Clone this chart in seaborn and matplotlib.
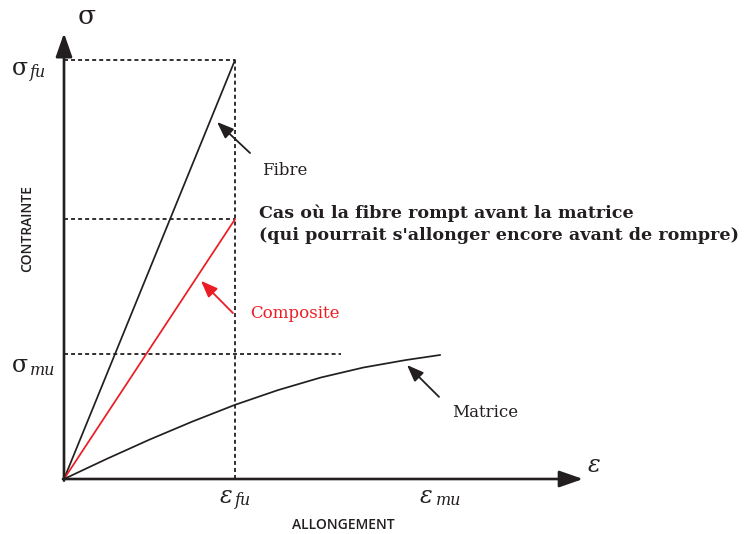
import matplotlib
matplotlib.use("Agg")
import matplotlib.pyplot as plt
import numpy as np
import pandas as pd
import seaborn as sns

# Stress–strain curves (strain normalised by fibre failure strain,
# stress normalised by fibre failure stress)
strain_fibre = [0.0, 1.0]
stress_fibre = [0.0, 1.0]
strain_composite = [0.0, 1.0]
stress_composite = [0.0, 0.62]
strain_matrix = [0.0, 0.25, 0.5, 0.75, 1.0, 1.25, 1.5, 1.75, 2.0, 2.2]
stress_matrix = [0.0, 0.048, 0.094, 0.137, 0.177, 0.212, 0.242, 0.266, 0.284, 0.296]

eps_fu = 1.0
eps_mu = 2.2
sig_fu = 1.0
sig_mu = 0.298

curve_names = ["Fibre", "Composite", "Matrice"]
curve_colors = {"Fibre": "#231f20", "Composite": "#ec1c24", "Matrice": "#231f20"}

sns.set_theme(style="white")
plt.rcParams["font.family"] = ["DejaVu Serif", "DejaVu Sans"]

df = pd.concat([
    pd.DataFrame({"strain": strain_fibre, "stress": stress_fibre, "curve": "Fibre"}),
    pd.DataFrame({"strain": strain_composite, "stress": stress_composite, "curve": "Composite"}),
    pd.DataFrame({"strain": strain_matrix, "stress": stress_matrix, "curve": "Matrice"}),
], ignore_index=True)

fig = plt.figure(figsize=(7.52, 5.34), dpi=100)
ax = fig.add_axes([0, 0, 1, 1])
ax.set_xlim(-64 / 171, 688 / 171)
ax.set_ylim(-55 / 419, 479 / 419)
ax.axis("off")

sns.lineplot(data=df, x="strain", y="stress", hue="curve", palette=curve_colors,
             hue_order=curve_names, sort=False, estimator=None, legend=False,
             linewidth=1.25, ax=ax, zorder=3)

# Reference dashed lines
dash = dict(color="#231f20", lw=1.3, ls=(0, (2.2, 1.7)), zorder=2)
ax.plot([0, eps_fu], [sig_fu, sig_fu], **dash)
ax.plot([0, eps_fu], [stress_composite[-1]] * 2, **dash)
ax.plot([0, 1.62], [sig_mu, sig_mu], **dash)
ax.plot([eps_fu, eps_fu], [0, sig_fu], **dash)

# Axes with arrow heads
axis_arrow = dict(arrowstyle="-|>,head_length=1.2,head_width=0.42", lw=1.9,
                  color="#231f20", shrinkA=0, shrinkB=0)
ax.annotate("", xy=(0, 1.064), xytext=(0, -0.004), arrowprops=axis_arrow, zorder=4)
ax.annotate("", xy=(3.035, 0), xytext=(-0.006, 0), arrowprops=axis_arrow, zorder=4)

# Callout arrows
def callout(tip, tail, color):
    ax.annotate("", xy=tip, xytext=tail,
                arrowprops=dict(arrowstyle="-|>,head_length=0.85,head_width=0.33",
                                lw=1.3, color=color, shrinkA=0, shrinkB=0))

callout((0.895, 0.852), (1.088, 0.778), "#231f20")
callout((0.801, 0.473), (0.988, 0.396), "#ec1c24")
callout((2.006, 0.272), (2.193, 0.196), "#231f20")

txt = "#231f20"
ax.text(1.158, 0.726, "Fibre", fontsize=12, color=txt, va="baseline")
ax.text(1.088, 0.384, "Composite", fontsize=12, color="#ec1c24", va="baseline")
ax.text(2.27, 0.148, "Matrice", fontsize=12, color=txt, va="baseline")

ax.text(1.143, 0.623, "Cas où la fibre rompt avant la matrice",
        fontsize=12.6, fontweight="bold", color=txt, va="baseline")
ax.text(1.143, 0.571, "(qui pourrait s'allonger encore avant de rompre)",
        fontsize=12.6, fontweight="bold", color=txt, va="baseline")

# Axis symbols and tick symbols
ax.text(0.134, 1.103, "σ", fontsize=19, color=txt, ha="center", va="center")
ax.text(3.064, 0.017, "ε", fontsize=17, style="italic", color=txt, va="baseline")

ax.text(-0.305, sig_fu - 0.036, "σ", fontsize=17, color=txt, va="baseline")
ax.text(-0.197, sig_fu - 0.041, "fu", fontsize=11.5, style="italic", color=txt, va="baseline")
ax.text(-0.305, sig_mu - 0.043, "σ", fontsize=17, color=txt, va="baseline")
ax.text(-0.197, sig_mu - 0.050, "mu", fontsize=11.5, style="italic", color=txt, va="baseline")

ax.text(eps_fu - 0.088, -0.057, "ε", fontsize=17, style="italic", color=txt, va="baseline")
ax.text(eps_fu + 0.002, -0.062, "fu", fontsize=11.5, style="italic", color=txt, va="baseline")
ax.text(eps_mu - 0.118, -0.057, "ε", fontsize=17, style="italic", color=txt, va="baseline")
ax.text(eps_mu - 0.025, -0.062, "mu", fontsize=11.5, style="italic", color=txt, va="baseline")

ax.text(1.632, -0.110, "ALLONGEMENT", fontsize=10, fontweight="semibold",
        family=["Open Sans", "DejaVu Sans"], color=txt, ha="center", va="center")
ax.text(-0.216, 0.597, "CONTRAINTE", fontsize=10, fontweight="semibold",
        family=["Open Sans", "DejaVu Sans"], color=txt, ha="center", va="center",
        rotation=90)

fig.savefig("out.png", dpi=100, facecolor="white")
